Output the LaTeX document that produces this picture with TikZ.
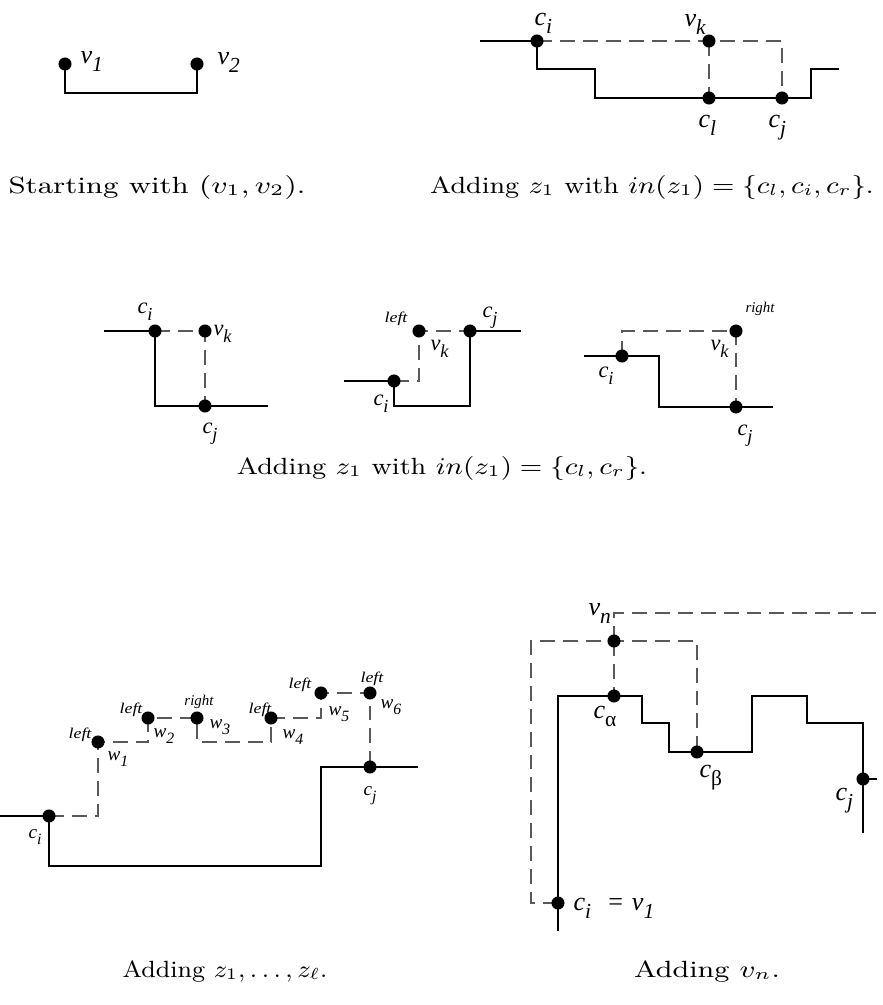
\documentclass[tikz,border=0pt]{standalone}
\usepackage{fontspec}
\usepackage{graphicx}
\newfontfamily\tms{Liberation Serif}
\usetikzlibrary{backgrounds}
\newcommand\lb[2]{{\tms\itshape #1\raisebox{-0.33em}{\scalebox{0.82}{#2}}}}
\newcommand\capt[2]{\scalebox{#1}[1]{#2}}
\newcommand\lft{\scalebox{1.2}[1]{left}}
\tikzset{
  dot/.style={circle, fill=black, inner sep=0pt, minimum size=4.9pt},
  wire/.style={line width=0.75pt, black},
  dline/.style={line width=0.5pt, black!65, dash pattern=on 5.6pt off 3pt},
  lab/.style={inner sep=0pt, anchor=base west},
  szA/.style={font=\fontsize{9.8}{12}\selectfont},
  szB/.style={font=\fontsize{8.4}{10}\selectfont},
  szC/.style={font=\fontsize{7.2}{9}\selectfont},
  tinylab/.style={inner sep=0pt, font=\tms\itshape\fontsize{5.6}{7}\selectfont},
  captext/.style={inner sep=0pt, anchor=base, font=\fontsize{8.8}{10}\selectfont}
}
\begin{document}
\begin{tikzpicture}[x=0.375pt,y=-0.375pt]
\useasboundingbox (0,0) rectangle (883,1005);
% ---------- Panel 1
\node[dot] (v1) at (65,64) {};
\node[dot] (v2) at (197,64) {};
\node[lab,szA] (lv1) at (80,63) {\lb{v}{1}};
\node[lab,szA] (lv2) at (217,64) {\lb{v}{2}};
\node[captext] (cap1) at (157,193) {\capt{1.28}{Starting with $(v_1,v_2)$.}};
% ---------- Panel 2
\coordinate (a2) at (480,41);
\coordinate (b2) at (839,69);
\node[dot] (ci2) at (537,41) {};
\node[dot] (vk2) at (709,41) {};
\node[dot] (cl2) at (709,98) {};
\node[dot] (cj2) at (782,98) {};
\node[lab,szA] (lci2) at (534,25) {\lb{c}{i}};
\node[lab,szA] (lvk2) at (684,26) {\lb{v}{k}};
\node[lab,szA] (lcl2) at (698,127) {\lb{c}{l}};
\node[lab,szA] (lcj2) at (768,127) {\lb{c}{j}};
\node[captext] (cap2) at (652,193) {\capt{1.165}{Adding $z_1$ with $in(z_1)=\{c_l,c_i,c_r\}$.}};
% ---------- Panel 3a
\coordinate (a3) at (104,331);
\coordinate (b3) at (268,406);
\node[dot] (ci3) at (155,331) {};
\node[dot] (vk3) at (205,331) {};
\node[dot] (cj3) at (205,406) {};
\node[lab,szB] (lci3) at (137,313) {\lb{c}{i}};
\node[lab,szB] (lvk3) at (213,335) {\lb{v}{k}};
\node[lab,szB] (lcj3) at (202,433) {\lb{c}{j}};
% ---------- Panel 3b
\coordinate (a4) at (344,381);
\coordinate (b4) at (521,331);
\node[dot] (ci4) at (394,381) {};
\node[dot] (vk4) at (419,331) {};
\node[dot] (cj4) at (470,331) {};
\node[tinylab,anchor=base east] (left4) at (408,322) {\lft};
\node[lab,szB] (lvk4) at (430,350) {\lb{v}{k}};
\node[lab,szB] (lcj4) at (482,317) {\lb{c}{j}};
\node[lab,szB] (lci4) at (373,405) {\lb{c}{i}};
% ---------- Panel 3c
\coordinate (a5) at (584,356);
\coordinate (b5) at (773,407);
\node[dot] (ci5) at (622,356) {};
\node[dot] (vk5) at (736,331) {};
\node[dot] (cj5) at (736,407) {};
\node[tinylab,anchor=base west] (right5) at (745,312) {right};
\node[lab,szB] (lvk5) at (710,350) {\lb{v}{k}};
\node[lab,szB] (lci5) at (598,377) {\lb{c}{i}};
\node[lab,szB] (lcj5) at (737,435) {\lb{c}{j}};
\node[captext] (cap3) at (442,474) {\capt{1.17}{Adding $z_1$ with $in(z_1)=\{c_l,c_r\}$.}};
% ---------- Panel 4
\coordinate (a6) at (0,816);
\coordinate (b6) at (418,767);
\node[dot] (ci6) at (49,816) {};
\node[dot] (w1) at (98,742) {};
\node[dot] (w2) at (148,718) {};
\node[dot] (w3) at (197,718) {};
\node[dot] (w4) at (271,718) {};
\node[dot] (w5) at (321,693) {};
\node[dot] (w6) at (370,693) {};
\node[dot] (cj6) at (370,767) {};
\node[tinylab,anchor=base east] (lf1) at (92,738) {\lft};
\node[tinylab,anchor=base east] (lf2) at (143,713) {\lft};
\node[tinylab,anchor=base] (rt3) at (199,705) {right};
\node[tinylab,anchor=base east] (lf4) at (272,713) {\lft};
\node[tinylab,anchor=base east] (lf5) at (312,688) {\lft};
\node[tinylab,anchor=base] (lf6) at (372,682) {\lft};
\node[lab,szC] (lw1) at (107,760) {\lb{w}{1}};
\node[lab,szC] (lw2) at (153,737) {\lb{w}{2}};
\node[lab,szC] (lw3) at (209,728) {\lb{w}{3}};
\node[lab,szC] (lw4) at (282,738) {\lb{w}{4}};
\node[lab,szC] (lw5) at (328,715) {\lb{w}{5}};
\node[lab,szC] (lw6) at (380,708) {\lb{w}{6}};
\node[lab,szC] (lcj6) at (363,795) {\lb{c}{j}};
\node[lab,szC] (lci6) at (28,838) {\lb{c}{i}};
\node[captext] (cap4) at (225,977) {\capt{1.08}{Adding $z_1,\ldots,z_\ell$.}};
% ---------- Panel 5
\coordinate (a7) at (538,903);
\coordinate (bot7) at (558,931);
\coordinate (b7) at (877,779);
\coordinate (e7) at (863,833);
\coordinate (topr) at (883,613);
\node[dot] (ci7) at (558,903) {};
\node[dot] (ca) at (614,696) {};
\node[dot] (vn) at (614,641) {};
\node[dot] (cb) at (697,752) {};
\node[dot] (cj7) at (863,779) {};
\node[lab,szA] (lvn) at (588,615) {\lb{v}{n}};
\node[lab,szA] (lca) at (593,718) {\lb{c}{\textup{α}}};
\node[lab,szA] (lcb) at (699,777) {\lb{c}{\textup{β}}};
\node[lab,szA] (lcj7) at (835,800) {\lb{c}{j}};
\node[lab,szA] (lci7) at (573,910) {\lb{c}{i}\ \ {\tms =}\ \lb{v}{1}};
\node[captext] (cap5) at (707,977) {\capt{1.25}{Adding $v_n$.}};
% ---------- connectors
\begin{scope}[on background layer]
  % panel 1
  \draw[wire] (v1.center) -- (65,93) -- (197,93) -- (v2.center);
  % panel 2
  \draw[wire] (a2) -- (ci2.center) -- (537,69) -- (595,69) -- (595,98) -- (811,98) -- (811,69) -- (b2);
  \draw[dline] (ci2.center) -- (vk2.center) -- (782,41) -- (cj2.center);
  \draw[dline] (vk2.center) -- (cl2.center);
  % panel 3a
  \draw[wire] (a3) -- (ci3.center) -- (155,406) -- (b3);
  \draw[dline] (ci3.center) -- (vk3.center) -- (cj3.center);
  % panel 3b
  \draw[wire] (a4) -- (ci4.center) -- (394,406) -- (470,406) -- (cj4.center) -- (b4);
  \draw[dline] (ci4.center) -- (419,381) -- (vk4.center) -- (cj4.center);
  % panel 3c
  \draw[wire] (a5) -- (ci5.center) -- (659,356) -- (659,407) -- (b5);
  \draw[dline] (ci5.center) -- (622,331) -- (vk5.center) -- (cj5.center);
  % panel 4
  \draw[wire] (a6) -- (ci6.center) -- (49,866) -- (321,866) -- (321,767) -- (b6);
  \draw[dline] (ci6.center) -- (98,816) -- (w1.center) -- (148,742) -- (w2.center) -- (w3.center) -- (197,742) -- (271,742) -- (w4.center) -- (321,718) -- (w5.center) -- (w6.center) -- (cj6.center);
  % panel 5
  \draw[wire] (bot7) -- (ci7.center) -- (558,696) -- (642,696) -- (642,723) -- (669,723) -- (669,752) -- (752,752) -- (752,696) -- (807,696) -- (807,723) -- (863,723) -- (e7);
  \draw[wire] (cj7.center) -- (b7);
  \draw[dline] (ci7.center) -- (531,903) -- (531,641) -- (697,641) -- (cb.center);
  \draw[dline] (vn.center) -- (ca.center);
  \draw[dline] (vn.center) -- (614,613) -- (topr);
\end{scope}
\end{tikzpicture}
\end{document}
